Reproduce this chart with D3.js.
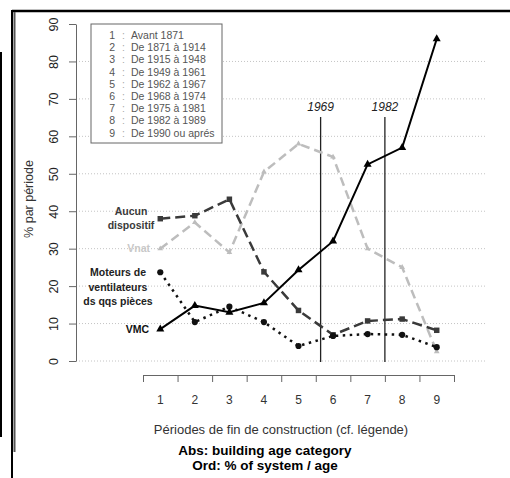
<!DOCTYPE html>
<html>
<head>
<meta charset="utf-8">
<script src="https://cdn.jsdelivr.net/npm/d3@7"></script>
<style>
  body { margin: 0; background: #fff; }
  svg { display: block; font-family: "Liberation Sans", Arial, sans-serif; }
</style>
</head>
<body>
<svg id="chart" width="510" height="478"></svg>
<script>
// données
var periods = [1, 2, 3, 4, 5, 6, 7, 8, 9];
var vmc     = [8.5, 14.8, 13, 15.5, 24.3, 32, 52.5, 57, 86];
var aucun   = [38, 38.8, 43.2, 23.8, 13.5, 7, 10.7, 11.2, 8.2];
var vnat    = [30, 37, 29, 50.5, 58, 54.5, 30, 25, 2.5];
var moteurs = [23.7, 10.4, 14.5, 10.4, 4, 6.7, 7.2, 7, 3.7];
var yTicks  = [0, 10, 20, 30, 40, 50, 60, 70, 80, 90];
var gridVals = [0, 10, 20, 30, 40, 50, 60, 70, 80];
var legendNums = ["1", "2", "3", "4", "5", "6", "7", "8", "9"];
var legendLabels = ["Avant 1871", "De 1871 à 1914", "De 1915 à 1948", "De 1949 à 1961",
  "De 1962 à 1967", "De 1968 à 1974", "De 1975 à 1981", "De 1982 à 1989", "De 1990 ou aprés"];
var yearMarks = [{label: "1969", pos: 5.64}, {label: "1982", pos: 7.5}];

var svg = d3.select("#chart");
var x = d3.scaleLinear().domain([0.5, 9.5]).range([143, 454]);
var y = d3.scaleLinear().domain([0, 90]).range([361, 24]);

// cadre (page scannée)
svg.append("line").attr("x1", 12).attr("x2", 510).attr("y1", 11).attr("y2", 11)
  .attr("stroke", "#000").attr("stroke-width", 2.5);
svg.append("line").attr("x1", 12).attr("x2", 12).attr("y1", 10).attr("y2", 478)
  .attr("stroke", "#000").attr("stroke-width", 2);
svg.append("line").attr("x1", 14.5).attr("x2", 14.5).attr("y1", 12).attr("y2", 452)
  .attr("stroke", "#555").attr("stroke-width", 2);
svg.append("line").attr("x1", 1).attr("x2", 1).attr("y1", 52).attr("y2", 437)
  .attr("stroke", "#000").attr("stroke-width", 2);

// grille
svg.append("g").selectAll("line").data(gridVals).enter().append("line")
  .attr("x1", 76).attr("x2", 485)
  .attr("y1", function(d){ return y(d); }).attr("y2", function(d){ return y(d); })
  .attr("stroke", "#c4c4c4").attr("stroke-width", 1).attr("stroke-dasharray", "1,2");

// axe Y
var yAxis = svg.append("g").attr("transform", "translate(76,0)")
  .call(d3.axisLeft(y).tickValues(yTicks).tickSize(7).tickSizeOuter(0).tickPadding(3));
yAxis.select(".domain").attr("stroke", "#666");
yAxis.selectAll(".tick line").attr("stroke", "#666");
yAxis.selectAll(".tick text")
  .attr("font-size", 12.5).attr("fill", "#222")
  .attr("x", 0).attr("dy", 0).attr("text-anchor", "middle")
  .attr("transform", "translate(-22,0) rotate(-90)")
  .attr("dominant-baseline", "central");
svg.append("text").text("% par période")
  .attr("transform", "translate(33,199) rotate(-90)")
  .attr("text-anchor", "middle").attr("font-size", 12.5).attr("fill", "#333");

// axe X
var xAxis = svg.append("g").attr("transform", "translate(0,375)")
  .call(d3.axisBottom(x).tickValues(d3.range(0.5, 10, 1)).tickFormat("").tickSize(7).tickSizeOuter(0));
xAxis.select(".domain").attr("stroke", "#666");
xAxis.selectAll(".tick line").attr("stroke", "#666");
svg.append("g").selectAll("text").data(periods).enter().append("text")
  .attr("x", function(d){ return x(d); }).attr("y", 404)
  .attr("text-anchor", "middle").attr("font-size", 12).attr("fill", "#333")
  .text(function(d){ return d; });
svg.append("text").text("Périodes de fin de construction (cf. légende)")
  .attr("x", 281).attr("y", 434).attr("text-anchor", "middle")
  .attr("font-size", 13).attr("fill", "#333");
svg.append("text").text("Abs: building age category")
  .attr("x", 265).attr("y", 455).attr("text-anchor", "middle")
  .attr("font-size", 13.5).attr("font-weight", "bold").attr("fill", "#000");
svg.append("text").text("Ord: % of system / age")
  .attr("x", 265).attr("y", 470).attr("text-anchor", "middle")
  .attr("font-size", 13.5).attr("font-weight", "bold").attr("fill", "#000");

// repères verticaux
var marks = svg.append("g").selectAll("g").data(yearMarks).enter().append("g");
marks.append("line")
  .attr("x1", function(d){ return x(d.pos); }).attr("x2", function(d){ return x(d.pos); })
  .attr("y1", 117).attr("y2", 362).attr("stroke", "#222").attr("stroke-width", 1.3);
marks.append("text")
  .attr("x", function(d){ return x(d.pos); }).attr("y", 111)
  .attr("text-anchor", "middle").attr("font-size", 12).attr("font-style", "italic")
  .attr("fill", "#222").text(function(d){ return d.label; });

// séries
var line = d3.line().x(function(d, i){ return x(periods[i]); }).y(function(d){ return y(d); });
var series = [
  {values: vnat, color: "#bdbdbd", dash: "9,5", width: 2.5, symbol: d3.symbolTriangle, size: 14},
  {values: aucun, color: "#3a3a3a", dash: "10,5", width: 2.5, symbol: d3.symbolSquare, size: 30},
  {values: moteurs, color: "#111", dash: "2.5,4.5", width: 2.5, symbol: d3.symbolCircle, size: 30},
  {values: vmc, color: "#000", dash: null, width: 2, symbol: d3.symbolTriangle, size: 28}
];
series.forEach(function(s){
  svg.append("path").datum(s.values).attr("d", line)
    .attr("fill", "none").attr("stroke", s.color).attr("stroke-width", s.width)
    .attr("stroke-dasharray", s.dash);
  svg.append("g").selectAll("path").data(s.values).enter().append("path")
    .attr("d", d3.symbol().type(s.symbol).size(s.size))
    .attr("transform", function(d, i){ return "translate(" + x(periods[i]) + "," + y(d) + ")"; })
    .attr("fill", s.color);
});

// étiquettes des séries
function label(lines, xr, yc, color, anchor) {
  var t = svg.append("text").attr("font-size", 10.5).attr("font-weight", "bold")
    .attr("fill", color).attr("text-anchor", anchor);
  lines.forEach(function(l, i){
    t.append("tspan").attr("x", xr).attr("y", yc + 3.5 + (i - (lines.length - 1) / 2) * 14.5).text(l);
  });
}
label(["Aucun", "dispositif"], 131, y(aucun[0]), "#3a3a3a", "middle");
label(["Vnat"], 150, y(vnat[0]), "#c8c8c8", "end");
label(["Moteurs de", "ventilateurs", "ds qqs pièces"], 118, y(moteurs[0]) + 15, "#222", "middle");
label(["VMC"], 149, y(vmc[0]), "#111", "end");

// légende
var lg = svg.append("g");
lg.append("rect").attr("x", 91).attr("y", 24).attr("width", 131).attr("height", 119)
  .attr("fill", "#fff").attr("stroke", "#666").attr("stroke-width", 1);
var rows = lg.selectAll("g").data(legendLabels).enter().append("g")
  .attr("transform", function(d, i){ return "translate(0," + (39 + i * 12.2) + ")"; });
rows.append("text").attr("x", 115).attr("text-anchor", "end").attr("font-size", 10.5)
  .attr("fill", "#555").text(function(d, i){ return legendNums[i]; });
rows.append("text").attr("x", 122).attr("font-size", 10.5).attr("fill", "#aaa").text(":");
rows.append("text").attr("x", 131).attr("font-size", 10.5).attr("fill", "#555")
  .text(function(d){ return d; });
</script>
</body>
</html>
